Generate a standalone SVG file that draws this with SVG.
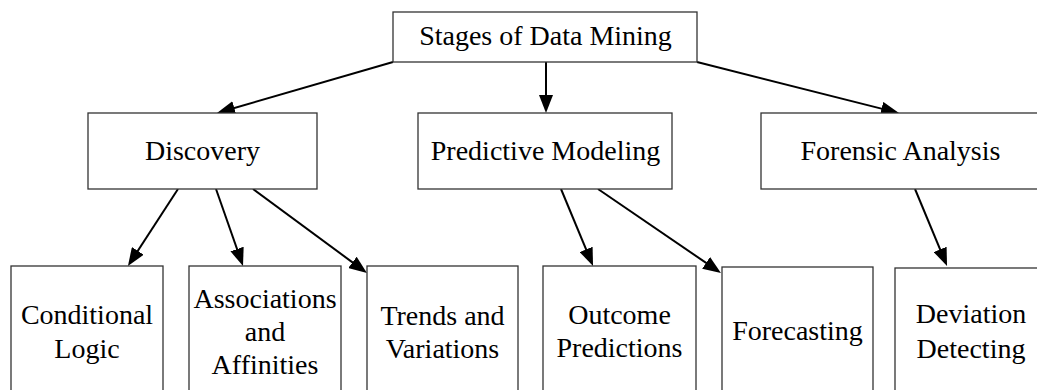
<svg xmlns="http://www.w3.org/2000/svg" width="1037" height="390" viewBox="0 0 1037 390">
<style>
.box{fill:#fff;stroke:#333;stroke-width:1.3}
.t{font-family:'Liberation Serif','DejaVu Serif',serif;font-size:28px;fill:#000;text-anchor:middle}
.c{fill:none;stroke:#000;stroke-width:2}
</style>
<defs>
<marker id="ah" markerUnits="userSpaceOnUse" markerWidth="18" markerHeight="14" refX="8" refY="7" orient="auto">
<path d="M0,0 L18,7 L0,14 z" fill="#000"/>
</marker>
</defs>
<rect width="1037" height="390" fill="#fff"/>
<g id="connectors">
<line class="c" x1="393" y1="62" x2="226.6" y2="110.2" marker-end="url(#ah)"/>
<line class="c" x1="546" y1="62" x2="546" y2="103" marker-end="url(#ah)"/>
<line class="c" x1="697" y1="62" x2="889.3" y2="110.6" marker-end="url(#ah)"/>
<line class="c" x1="178" y1="189" x2="133.4" y2="257.6" marker-end="url(#ah)"/>
<line class="c" x1="216" y1="189" x2="239.7" y2="256.6" marker-end="url(#ah)"/>
<line class="c" x1="253" y1="189" x2="358.9" y2="267.1" marker-end="url(#ah)"/>
<line class="c" x1="561" y1="189" x2="589.2" y2="256.8" marker-end="url(#ah)"/>
<line class="c" x1="598" y1="189" x2="712.7" y2="267.4" marker-end="url(#ah)"/>
<line class="c" x1="915" y1="189" x2="943.2" y2="256.8" marker-end="url(#ah)"/>
</g>
<g id="stages">
<rect class="box" x="393" y="12" width="304" height="50"/>
<text class="t" x="545.5" y="45" font-family="Liberation Serif">Stages of Data Mining</text>
</g>
<g id="discovery">
<rect class="box" x="88" y="113" width="229" height="76"/>
<text class="t" x="202.5" y="160">Discovery</text>
</g>
<g id="predictive">
<rect class="box" x="418" y="113" width="254" height="76"/>
<text class="t" x="545.5" y="160">Predictive Modeling</text>
</g>
<g id="forensic">
<rect class="box" x="761" y="113" width="280" height="76"/>
<text class="t" x="900.5" y="160">Forensic Analysis</text>
</g>
<g id="conditional">
<rect class="box" x="11" y="266" width="152" height="140"/>
<text class="t" x="87" y="324">Conditional</text>
<text class="t" x="87" y="358">Logic</text>
</g>
<g id="associations">
<rect class="box" x="189" y="266" width="152" height="140"/>
<text class="t" x="265" y="308">Associations</text>
<text class="t" x="265" y="341">and</text>
<text class="t" x="265" y="374">Affinities</text>
</g>
<g id="trends">
<rect class="box" x="367" y="266" width="151" height="140"/>
<text class="t" x="442.5" y="325">Trends and</text>
<text class="t" x="442.5" y="358">Variations</text>
</g>
<g id="outcome">
<rect class="box" x="543" y="266" width="153" height="140"/>
<text class="t" x="619.5" y="324">Outcome</text>
<text class="t" x="619.5" y="357">Predictions</text>
</g>
<g id="forecasting">
<rect class="box" x="722" y="267" width="151" height="140"/>
<text class="t" x="797.5" y="340">Forecasting</text>
</g>
<g id="deviation">
<rect class="box" x="895" y="268" width="152" height="140"/>
<text class="t" x="971" y="323">Deviation</text>
<text class="t" x="971" y="358">Detecting</text>
</g>
</svg>
